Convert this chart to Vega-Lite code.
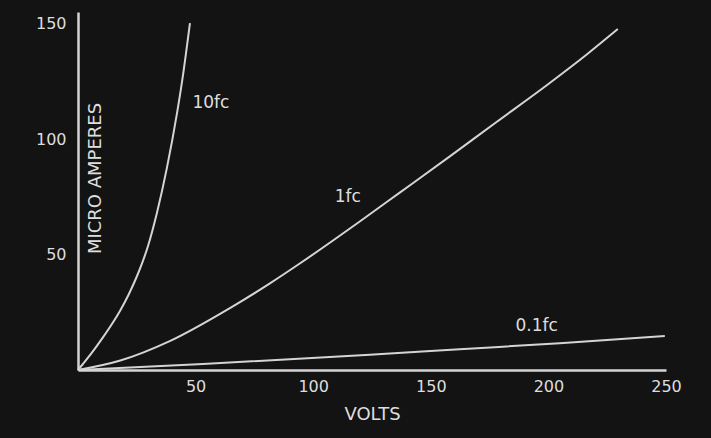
{
  "$schema": "https://vega.github.io/schema/vega-lite/v6.json",
  "width": 588,
  "height": 358,
  "autosize": {"type": "none"},
  "padding": {"left": 78, "top": 12, "right": 45, "bottom": 68},
  "background": "#131313",
  "config": {"view": {"stroke": null}, "font": "DejaVu Sans"},
  "datasets": {
    "curves": [
      {"illumination": "10fc", "volts": 0, "microamperes": 0},
      {"illumination": "10fc", "volts": 2.1, "microamperes": 2.6},
      {"illumination": "10fc", "volts": 6, "microamperes": 7.6},
      {"illumination": "10fc", "volts": 10.6, "microamperes": 14.1},
      {"illumination": "10fc", "volts": 14.5, "microamperes": 20},
      {"illumination": "10fc", "volts": 17.9, "microamperes": 25.7},
      {"illumination": "10fc", "volts": 21.5, "microamperes": 32.6},
      {"illumination": "10fc", "volts": 25.1, "microamperes": 40.7},
      {"illumination": "10fc", "volts": 27.5, "microamperes": 46.9},
      {"illumination": "10fc", "volts": 29.8, "microamperes": 53.8},
      {"illumination": "10fc", "volts": 33.6, "microamperes": 68.2},
      {"illumination": "10fc", "volts": 37.8, "microamperes": 87.5},
      {"illumination": "10fc", "volts": 42.1, "microamperes": 111.2},
      {"illumination": "10fc", "volts": 44.2, "microamperes": 124.6},
      {"illumination": "10fc", "volts": 47.6, "microamperes": 150.2},
      {"illumination": "1fc", "volts": 0, "microamperes": 0},
      {"illumination": "1fc", "volts": 18, "microamperes": 4.1},
      {"illumination": "1fc", "volts": 39, "microamperes": 12.5},
      {"illumination": "1fc", "volts": 64.6, "microamperes": 26.8},
      {"illumination": "1fc", "volts": 81.6, "microamperes": 37.5},
      {"illumination": "1fc", "volts": 94.3, "microamperes": 46.1},
      {"illumination": "1fc", "volts": 119.8, "microamperes": 64.3},
      {"illumination": "1fc", "volts": 136.8, "microamperes": 76.8},
      {"illumination": "1fc", "volts": 158.1, "microamperes": 92.5},
      {"illumination": "1fc", "volts": 178.1, "microamperes": 107.5},
      {"illumination": "1fc", "volts": 199.3, "microamperes": 123.3},
      {"illumination": "1fc", "volts": 216.3, "microamperes": 136.6},
      {"illumination": "1fc", "volts": 229.5, "microamperes": 147.6},
      {"illumination": "0.1fc", "volts": 0, "microamperes": 0},
      {"illumination": "0.1fc", "volts": 53.1, "microamperes": 2.6},
      {"illumination": "0.1fc", "volts": 124.1, "microamperes": 6.6},
      {"illumination": "0.1fc", "volts": 162.3, "microamperes": 9.0},
      {"illumination": "0.1fc", "volts": 204.8, "microamperes": 11.6},
      {"illumination": "0.1fc", "volts": 249.5, "microamperes": 14.7}
    ],
    "labels": [
      {"label": "10fc", "volts": 56.5, "microamperes": 115.7},
      {"label": "1fc", "volts": 114.7, "microamperes": 75},
      {"label": "0.1fc", "volts": 195, "microamperes": 19.1}
    ]
  },
  "layer": [
    {
      "data": {"name": "curves"},
      "mark": {"type": "line", "interpolate": "monotone", "strokeWidth": 2, "color": "#d4d4d4"},
      "encoding": {
        "x": {
          "field": "volts",
          "type": "quantitative",
          "scale": {"domain": [0, 250], "nice": false},
          "axis": {
            "title": "VOLTS",
            "values": [50, 100, 150, 200, 250],
            "ticks": false,
            "grid": false,
            "domainColor": "#d4d4d4",
            "domainWidth": 2.5,
            "labelColor": "#dedede",
            "labelFontSize": 16,
            "labelPadding": 8,
            "labelFlush": false,
            "labelOverlap": false,
            "titleColor": "#dedede",
            "titleFontSize": 18,
            "titleFontWeight": "normal",
            "titleY": 44,
            "titleBaseline": "middle"
          }
        },
        "y": {
          "field": "microamperes",
          "type": "quantitative",
          "scale": {"domain": [0, 155], "nice": false},
          "axis": {
            "title": "MICRO AMPERES",
            "values": [50, 100, 150],
            "ticks": false,
            "grid": false,
            "domainColor": "#d4d4d4",
            "domainWidth": 2.5,
            "labelColor": "#dedede",
            "labelFontSize": 16,
            "labelPadding": 12,
            "labelFlush": false,
            "labelOverlap": false,
            "titleColor": "#dedede",
            "titleFontSize": 18,
            "titleFontWeight": "normal",
            "titleX": 17,
            "titleY": 166,
            "titleAngle": -90,
            "titleAlign": "center",
            "titleBaseline": "middle"
          }
        },
        "detail": {"field": "illumination", "type": "nominal"}
      }
    },
    {
      "data": {"name": "labels"},
      "mark": {"type": "text", "fontSize": 17, "color": "#dedede", "align": "center", "baseline": "middle"},
      "encoding": {
        "x": {"field": "volts", "type": "quantitative"},
        "y": {"field": "microamperes", "type": "quantitative"},
        "text": {"field": "label", "type": "nominal"}
      }
    }
  ]
}
